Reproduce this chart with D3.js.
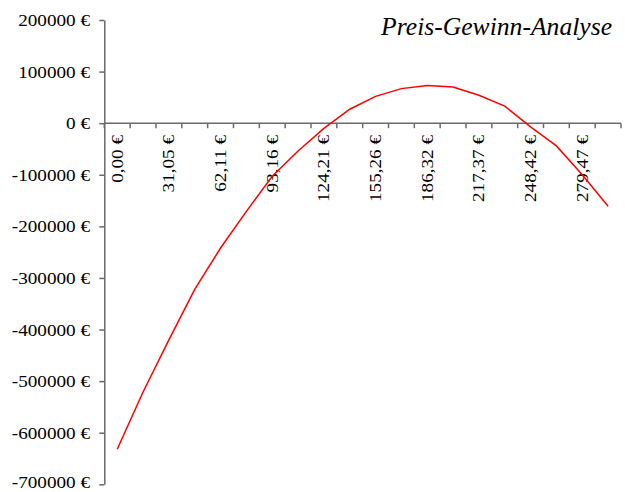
<!DOCTYPE html>
<html><head><meta charset="utf-8">
<script src="https://cdn.jsdelivr.net/npm/d3@7"></script>
<style>body{margin:0;background:#fff}svg{display:block}</style></head>
<body>
<svg id="c" width="625" height="492"></svg>
<script>
const prices = ["0,00 €","15,53 €","31,05 €","46,58 €","62,11 €","77,63 €","93,16 €","108,68 €","124,21 €","139,74 €",
  "155,26 €","170,79 €","186,32 €","201,84 €","217,37 €","232,89 €","248,42 €","263,95 €","279,47 €","295,00 €"];
const profit = [-632000,-521000,-420000,-322000,-242000,-171000,-103000,-54000,-10000,27000,
  52000,67000,73000,70000,54000,33000,-7000,-44000,-100000,-161000];
const yTicks = [200000,100000,0,-100000,-200000,-300000,-400000,-500000,-600000,-700000];
const title = "Preis-Gewinn-Analyse";

const font = "'Liberation Serif','Times New Roman',serif";
const axisColor = "#6a6a6a";
const svg = d3.select("#c");

const x = d3.scaleBand().domain(d3.range(prices.length)).range([104.3, 621]).padding(0);
const y = d3.scaleLinear().domain([-700000, 200000]).range([484.3, 20]);
const bw = x.bandwidth();

// Y axis
const ya = svg.append("g").attr("transform", "translate(104.3,0)")
  .call(d3.axisLeft(y).tickValues(yTicks).tickSize(5).tickSizeOuter(0).tickFormat(""));
ya.selectAll("path,line").attr("stroke", axisColor).attr("stroke-width", 1.5);

svg.append("g").selectAll("text").data(yTicks).join("text")
  .attr("transform", d => `translate(90,${Math.min(y(d) + 6, 487.5)}) scale(1.14,1)`)
  .attr("text-anchor", "end")
  .style("font-family", font).style("font-size", "16.8px").attr("fill", "#000")
  .text(d => d + " €");

// X axis (category axis at y=0)
const xg = svg.append("g");
xg.append("line").attr("x1", x.range()[0]).attr("x2", x.range()[1])
  .attr("y1", y(0)).attr("y2", y(0))
  .attr("stroke", axisColor).attr("stroke-width", 1.5);
xg.selectAll("line.tick").data(d3.range(prices.length + 1)).join("line").attr("class", "tick")
  .attr("x1", k => k < prices.length ? x(k) : x.range()[1])
  .attr("x2", k => k < prices.length ? x(k) : x.range()[1])
  .attr("y1", y(0)).attr("y2", y(0) + 5)
  .attr("stroke", axisColor).attr("stroke-width", 1.5);

xg.selectAll("text").data(prices.map((p, i) => ({p, i})).filter(d => d.i % 2 === 0)).join("text")
  .attr("transform", d => `translate(${x(d.i) + bw / 2 + 5.5},135) rotate(-90) scale(1.14,1)`)
  .attr("text-anchor", "end")
  .style("font-family", font).style("font-size", "16.8px").attr("fill", "#000")
  .text(d => d.p);

// Line
const line = d3.line().x((d, i) => x(i) + bw / 2).y(d => y(d));
svg.append("path").datum(profit).attr("d", line)
  .attr("fill", "none").attr("stroke", "#ff0000").attr("stroke-width", 1.5);

// Title
const t = svg.append("text").attr("text-anchor", "end")
  .style("font-family", font).style("font-size", "26px").style("font-style", "italic")
  .attr("fill", "#000").text(title);
const w = t.node().getComputedTextLength();
t.attr("transform", `translate(612,35) scale(${231 / w},1)`);
</script>
</body></html>
